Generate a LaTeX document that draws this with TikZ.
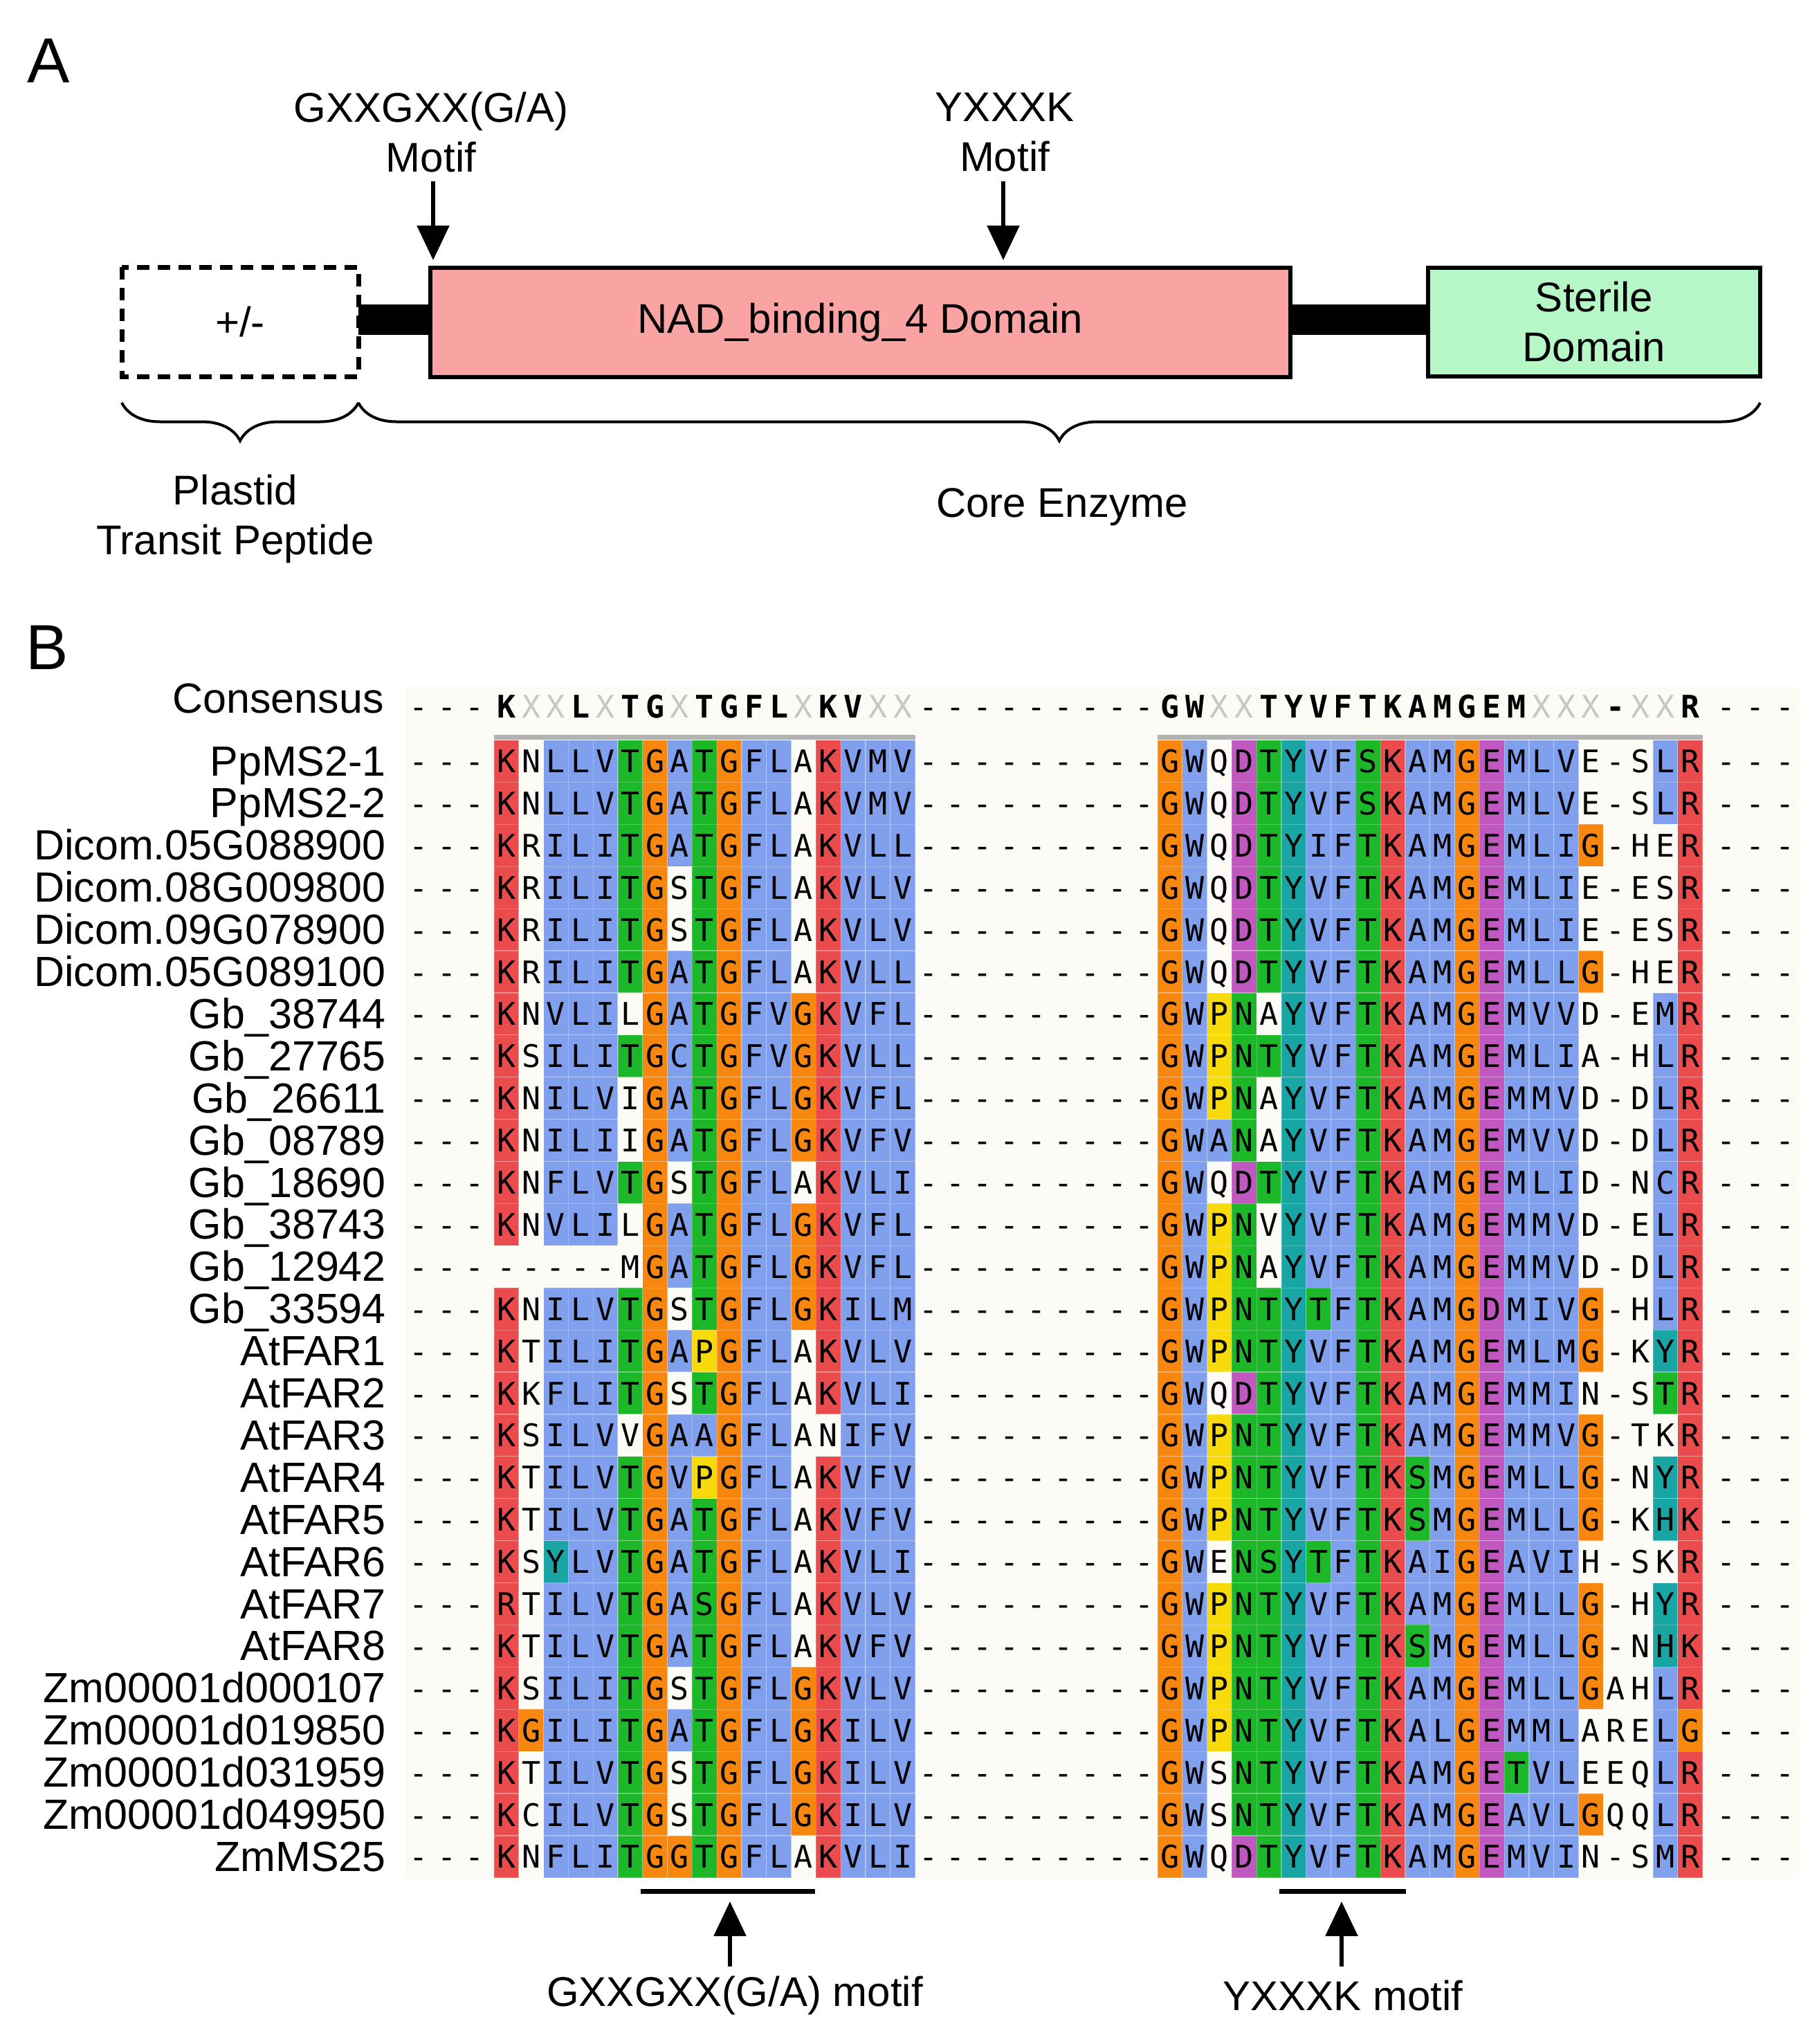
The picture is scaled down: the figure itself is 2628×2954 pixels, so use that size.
\documentclass[tikz,border=0pt]{standalone}
\usepackage{fontspec}
\usepackage{xstring}
\setmainfont{Liberation Sans}
\newfontfamily\resf{DejaVu Sans Mono}
\usetikzlibrary{arrows.meta,decorations.pathreplacing}
\definecolor{colR}{HTML}{EA4B4D}
\definecolor{colB}{HTML}{80A0EE}
\definecolor{colG}{HTML}{1DB82A}
\definecolor{colO}{HTML}{F8870F}
\definecolor{colY}{HTML}{F8D90A}
\definecolor{colC}{HTML}{1AA5A5}
\definecolor{colM}{HTML}{C058C0}
\definecolor{colW}{HTML}{FCFBF5}
\definecolor{cream}{HTML}{FCFBF5}
\definecolor{pinkbox}{HTML}{F9A3A3}
\definecolor{greenbox}{HTML}{B5F7C6}
\def\cw{35.8}
\def\rh{60.9}
\def\xX{X}
\newcommand\alnrow[4]{% y, x0, letters, codes
  \StrLen{#3}[\len]%
  \foreach \i in {1,...,\len}{%
    \StrChar{#3}{\i}[\rch]\StrChar{#4}{\i}[\rcc]%
    \fill[col\rcc] ({#2+(\i-1)*\cw},{#1-\rh/2}) rectangle ++(\cw,\rh);
    \draw[white,opacity=0.25,line width=1.2] ({#2+(\i-1)*\cw},{#1-\rh/2}) rectangle ++(\cw,\rh);
    \node[res] at ({#2+(\i-0.5)*\cw},{#1+16.5}) {\rch};
  }}
\newcommand\consrow[3]{% y, x0, letters
  \StrLen{#3}[\len]%
  \foreach \i in {1,...,\len}{%
    \StrChar{#3}{\i}[\rch]%
    \ifx\rch\xX
      \node[res,font=\resf\fontsize{45}{45}\selectfont,text=black!22] at ({#2+(\i-0.5)*\cw},{#1+16.5}) {X};
    \else
      \node[res,font=\resf\bfseries\fontsize{45}{45}\selectfont] at ({#2+(\i-0.5)*\cw},{#1+16.5}) {\rch};
    \fi
  }}
\newcommand\dashes[1]{%
  \foreach \k in {0,1,2}{\node[res] at ({605+\k*40.6},{#1+16.5}) {-};}
  \foreach \k in {0,...,8}{\node[res] at ({1323+(\k+0.5)*38.9},{#1+16.5}) {-};}
  \foreach \k in {0,1,2}{\node[res] at ({2495+\k*42.5},{#1+16.5}) {-};}}
\begin{document}
\begin{tikzpicture}[x=1pt,y=-1pt,
  res/.style={inner sep=0,anchor=base,font=\resf\fontsize{45}{45}\selectfont},
  lab/.style={font=\fontsize{60}{72}\selectfont,align=center},
  nm/.style={font=\fontsize{61}{61}\selectfont,anchor=base east,inner sep=0},
  arr/.style={line width=5.5,-{Triangle[width=46,length=50]}},
  br/.style={decorate,decoration={brace,mirror,amplitude=55},line width=4}]
\useasboundingbox (0,0) rectangle (2628,2954);
\fill[white] (0,0) rectangle (2628,2954);
% ---------- Panel A ----------
\node[font=\fontsize{92}{92}\selectfont] (lA) at (70,88) {A};
\draw[line width=7,dash pattern=on 18 off 12] (176,386) rectangle (518,544);
\node[lab] (pm) at (347,465) {+/-};
\fill (518,440) rectangle (625,484);
\fill (1865,440) rectangle (2066,484);
\node[draw,line width=6,fill=pinkbox,minimum width=1243,minimum height=158,inner sep=0,lab] (nad) at (1243.5,466) {NAD\_binding\_4 Domain};
\node[draw,line width=6,fill=greenbox,minimum width=480,minimum height=157,inner sep=0,lab] (ster) at (2304,465) {Sterile\\Domain};
\node[lab] (m1) at (623,191) {GXXGXX(G/A)\\Motif};
\node[lab] (m2) at (1452,191) {YXXXK\\Motif};
\coordinate (a1t) at (626,262); \coordinate (a1b) at (626,376);
\coordinate (a2t) at (1450,262); \coordinate (a2b) at (1450,376);
\draw[arr] (a1t) -- (a1b);
\draw[arr] (a2t) -- (a2b);
\coordinate (b1a) at (176,582); \coordinate (b1b) at (518,582); \coordinate (b2b) at (2544,582);
\draw[br] (b1a) -- (b1b);
\draw[br] (b1b) -- (b2b);
\node[lab] (pt) at (340,750) {Plastid\\Transit Peptide};
\node[lab] (ce) at (1535,733) {Core Enzyme};
% ---------- Panel B ----------
\node[font=\fontsize{92}{92}\selectfont] (lB) at (68,936) {B};
\fill[cream] (586,992) rectangle (2600,2716);
\node[nm] (cons) at (555,1030) {Consensus};
\dashes{1021}
\consrow{1021}{714}{KXXLXTGXTGFLXKVXX}
\consrow{1021}{1673}{GWXXTYVFTKAMGEMXXX-XXR}
\fill[black!30] (714,1062) rectangle ++({17*\cw},7);
\fill[black!30] (1673,1062) rectangle ++({22*\cw},7);
\foreach \nmtext/\la/\ca/\lb/\cb [count=\r from 0] in {
PpMS2-1/KNLLVTGATGFLAKVMV/RWBBBGOBGOBBWRBBB/GWQDTYVFSKAMGEMLVE-SLR/OBWMGCBBGRBBOMBBBWWWBR,
PpMS2-2/KNLLVTGATGFLAKVMV/RWBBBGOBGOBBWRBBB/GWQDTYVFSKAMGEMLVE-SLR/OBWMGCBBGRBBOMBBBWWWBR,
Dicom.05G088900/KRILITGATGFLAKVLL/RWBBBGOBGOBBWRBBB/GWQDTYIFTKAMGEMLIG-HER/OBWMGCBBGRBBOMBBBOWWWR,
Dicom.08G009800/KRILITGSTGFLAKVLV/RWBBBGOWGOBBWRBBB/GWQDTYVFTKAMGEMLIE-ESR/OBWMGCBBGRBBOMBBBWWWWR,
Dicom.09G078900/KRILITGSTGFLAKVLV/RWBBBGOWGOBBWRBBB/GWQDTYVFTKAMGEMLIE-ESR/OBWMGCBBGRBBOMBBBWWWWR,
Dicom.05G089100/KRILITGATGFLAKVLL/RWBBBGOBGOBBWRBBB/GWQDTYVFTKAMGEMLLG-HER/OBWMGCBBGRBBOMBBBOWWWR,
Gb\_38744/KNVLILGATGFVGKVFL/RWBBBWOBGOBBORBBB/GWPNAYVFTKAMGEMVVD-EMR/OBYGWCBBGRBBOMBBBWWWBR,
Gb\_27765/KSILITGCTGFVGKVLL/RWBBBGOBGOBBORBBB/GWPNTYVFTKAMGEMLIA-HLR/OBYGGCBBGRBBOMBBBWWWBR,
Gb\_26611/KNILVIGATGFLGKVFL/RWBBBWOBGOBBORBBB/GWPNAYVFTKAMGEMMVD-DLR/OBYGWCBBGRBBOMBBBWWWBR,
Gb\_08789/KNILIIGATGFLGKVFV/RWBBBWOBGOBBORBBB/GWANAYVFTKAMGEMVVD-DLR/OBBGWCBBGRBBOMBBBWWWBR,
Gb\_18690/KNFLVTGSTGFLAKVLI/RWBBBGOWGOBBWRBBB/GWQDTYVFTKAMGEMLID-NCR/OBWMGCBBGRBBOMBBBWWWBR,
Gb\_38743/KNVLILGATGFLGKVFL/RWBBBWOBGOBBORBBB/GWPNVYVFTKAMGEMMVD-ELR/OBYGWCBBGRBBOMBBBWWWBR,
Gb\_12942/-----MGATGFLGKVFL/WWWWWWOBGOBBORBBB/GWPNAYVFTKAMGEMMVD-DLR/OBYGWCBBGRBBOMBBBWWWBR,
Gb\_33594/KNILVTGSTGFLGKILM/RWBBBGOWGOBBORBBB/GWPNTYTFTKAMGDMIVG-HLR/OBYGGCGBGRBBOMBBBOWWBR,
AtFAR1/KTILITGAPGFLAKVLV/RWBBBGOBYOBBWRBBB/GWPNTYVFTKAMGEMLMG-KYR/OBYGGCBBGRBBOMBBBOWWCR,
AtFAR2/KKFLITGSTGFLAKVLI/RWBBBGOWGOBBWRBBB/GWQDTYVFTKAMGEMMIN-STR/OBWMGCBBGRBBOMBBBWWWGR,
AtFAR3/KSILVVGAAGFLANIFV/RWBBBWOBBOBBWWBBB/GWPNTYVFTKAMGEMMVG-TKR/OBYGGCBBGRBBOMBBBOWWWR,
AtFAR4/KTILVTGVPGFLAKVFV/RWBBBGOBYOBBWRBBB/GWPNTYVFTKSMGEMLLG-NYR/OBYGGCBBGRGBOMBBBOWWCR,
AtFAR5/KTILVTGATGFLAKVFV/RWBBBGOBGOBBWRBBB/GWPNTYVFTKSMGEMLLG-KHK/OBYGGCBBGRGBOMBBBOWWCR,
AtFAR6/KSYLVTGATGFLAKVLI/RWCBBGOBGOBBWRBBB/GWENSYTFTKAIGEAVIH-SKR/OBWGGCGBGRBBOMBBBWWWWR,
AtFAR7/RTILVTGASGFLAKVLV/RWBBBGOBGOBBWRBBB/GWPNTYVFTKAMGEMLLG-HYR/OBYGGCBBGRBBOMBBBOWWCR,
AtFAR8/KTILVTGATGFLAKVFV/RWBBBGOBGOBBWRBBB/GWPNTYVFTKSMGEMLLG-NHK/OBYGGCBBGRGBOMBBBOWWCR,
Zm00001d000107/KSILITGSTGFLGKVLV/RWBBBGOWGOBBORBBB/GWPNTYVFTKAMGEMLLGAHLR/OBYGGCBBGRBBOMBBBOWWBR,
Zm00001d019850/KGILITGATGFLGKILV/ROBBBGOBGOBBORBBB/GWPNTYVFTKALGEMMLARELG/OBYGGCBBGRBBOMBBBWWWBO,
Zm00001d031959/KTILVTGSTGFLGKILV/RWBBBGOWGOBBORBBB/GWSNTYVFTKAMGETVLEEQLR/OBWGGCBBGRBBOMGBBWWWBR,
Zm00001d049950/KCILVTGSTGFLGKILV/RWBBBGOWGOBBORBBB/GWSNTYVFTKAMGEAVLGQQLR/OBWGGCBBGRBBOMBBBOWWBR,
ZmMS25/KNFLITGGTGFLAKVLI/RWBBBGOOGOBBWRBBB/GWQDTYVFTKAMGEMVIN-SMR/OBWMGCBBGRBBOMBBBWWWBR}{
  \pgfmathsetmacro\yy{1100+\r*\rh}
  \node[nm] at (558,\yy+21) {\nmtext};
  \dashes{\yy}
  \alnrow{\yy}{714}{\la}{\ca}
  \alnrow{\yy}{1673}{\lb}{\cb}
}
% motif bars
\coordinate (g1) at (926,2733); \coordinate (g2) at (1178,2733);
\coordinate (y1) at (1849,2733); \coordinate (y2) at (2032,2733);
\draw[line width=7] (g1) -- (g2);
\draw[line width=7] (y1) -- (y2);
\node[lab] (gm) at (1062,2884) {GXXGXX(G/A) motif};
\node[lab] (ym) at (1941,2884) {YXXXK motif};
\coordinate (ga) at (1055,2842); \coordinate (gt) at (1055,2748);
\coordinate (ya) at (1939,2842); \coordinate (yt) at (1939,2748);
\draw[arr] (ga) -- (gt);
\draw[arr] (ya) -- (yt);
\end{tikzpicture}
\end{document}
